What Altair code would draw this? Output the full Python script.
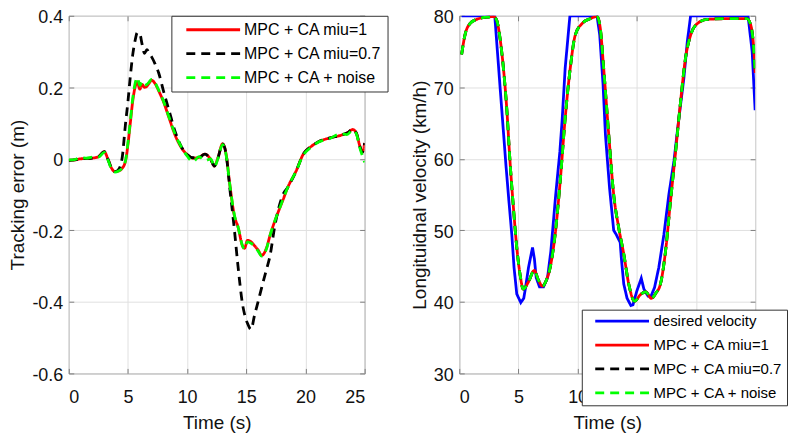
import altair as alt
import pandas as pd

# ---------------- Left panel: tracking error ----------------
t_err = [0, 0.5, 1, 1.5, 2, 2.5, 3, 3.3, 3.6, 3.9, 4.2, 4.5, 4.8, 5.0, 5.2, 5.4, 5.6, 5.8,
         6.0, 6.2, 6.4, 6.6, 6.8, 7.0, 7.3, 7.6, 8.0, 8.5, 9.0, 9.5, 10, 10.5, 11, 11.5, 12,
         12.3, 12.6, 13.0, 13.3, 13.6, 14.0, 14.3, 14.7, 14.85, 15.1, 15.4, 15.7, 16.0, 16.3,
         16.7, 17.0, 17.4, 17.8, 18.1, 18.5, 19.2, 19.8, 20.5, 21, 22, 23, 23.5, 24, 24.3,
         24.6, 24.8, 25]
err_miu1 = [-0.004, -0.003, 0.0, 0.001, 0.002, 0.006, 0.02, 0.0, -0.025, -0.036, -0.034, -0.027,
            -0.005, 0.04, 0.1, 0.16, 0.2, 0.215, 0.195, 0.208, 0.2, 0.203, 0.212, 0.22, 0.21,
            0.19, 0.16, 0.112, 0.065, 0.032, 0.012, 0.002, 0.004, 0.013, -0.002, -0.02, 0.002,
            0.042, 0.012, -0.07, -0.16, -0.19, -0.245, -0.25, -0.228, -0.232, -0.243, -0.255,
            -0.27, -0.25, -0.215, -0.175, -0.14, -0.115, -0.08, -0.035, 0.012, 0.035, 0.046,
            0.058, 0.066, 0.072, 0.082, 0.072, 0.035, 0.018, 0.044]
err_miu07 = [-0.004, -0.003, 0.0, 0.001, 0.002, 0.006, 0.02, 0.0, -0.025, -0.036, -0.03, 0.0,
             0.1, 0.16, 0.23, 0.29, 0.33, 0.353, 0.35, 0.32, 0.295, 0.305, 0.295, 0.285, 0.265,
             0.24, 0.19, 0.132, 0.075, 0.035, 0.012, 0.003, 0.004, 0.013, -0.002, -0.02, 0.002,
             0.042, 0.012, -0.08, -0.2, -0.3, -0.41, -0.434, -0.46, -0.477, -0.437, -0.399,
             -0.36, -0.31, -0.272, -0.19, -0.13, -0.1, -0.08, -0.035, 0.012, 0.035, 0.046,
             0.058, 0.066, 0.072, 0.082, 0.072, 0.035, 0.018, 0.044]
err_noise = [-0.003, -0.002, 0.004, 0.002, 0.005, 0.005, 0.018, -0.002, -0.028, -0.037, -0.034,
             -0.026, -0.004, 0.045, 0.105, 0.168, 0.21, 0.227, 0.205, 0.215, 0.205, 0.208, 0.215,
             0.222, 0.212, 0.192, 0.162, 0.114, 0.068, 0.034, 0.008, -0.008, 0.006, -0.005, 0.0,
             -0.022, 0.0, 0.04, 0.01, -0.07, -0.158, -0.19, -0.245, -0.252, -0.232, -0.236,
             -0.245, -0.258, -0.272, -0.252, -0.215, -0.175, -0.14, -0.113, -0.08, -0.035, 0.01,
             0.033, 0.045, 0.056, 0.07, 0.068, 0.08, 0.07, 0.03, 0.01, -0.01]

# ---------------- Right panel: longitudinal velocity ----------------
t_des = [0.2, 3.0, 3.45, 3.95, 4.2, 4.44, 4.63, 4.86, 5.2, 5.45, 5.6, 5.85, 6.19, 6.35, 6.5,
         6.78, 7.12, 7.46, 7.74, 8.15, 8.5, 8.7, 8.95, 9.35, 11.64, 11.87, 12.15, 12.35, 12.7,
         13.05, 13.27, 13.6, 13.7, 13.9, 14.18, 14.5, 14.68, 15.0, 15.38, 15.6, 15.95, 16.2,
         16.5, 16.86, 17.29, 17.71, 18.14, 18.56, 18.98, 19.27, 19.55, 24.4, 24.75, 25.0]
v_des = [80, 80, 70, 59, 54, 49.4, 44.8, 41.1, 39.9, 40.5, 42.0, 44.8, 47.6, 46.0, 43.4, 42.1,
         42.1, 43.4, 47.1, 55, 61, 65.6, 72.7, 80, 80, 77.3, 70.4, 63.4, 55.9, 50.0, 49.4, 48.3,
         46.0, 42.5, 40.5, 39.5, 39.6, 41.5, 43.3, 41.8, 40.8, 40.8, 42.0, 44.8, 49.4, 55.0,
         59.7, 65.7, 71.3, 76.4, 80, 80, 75.0, 66.8]
t_mpc = [0.2, 0.48, 0.9, 1.47, 2.3, 2.9, 3.16, 3.45, 3.73, 4.01, 4.29, 4.58, 4.86, 5.14, 5.4,
         5.85, 6.33, 6.7, 7.03, 7.35, 7.68, 8.1, 8.53, 8.95, 9.38, 9.8, 10.37, 11.07, 11.64,
         11.92, 12.2, 12.63, 13.05, 13.47, 13.9, 14.32, 14.82, 15.3, 15.75, 16.23, 16.6, 17.0,
         17.43, 17.85, 18.28, 18.7, 19.12, 19.55, 20.11, 20.96, 22.9, 24.3, 24.63, 24.9, 25.0]
v_miu1 = [74.6, 77.3, 78.9, 79.5, 79.8, 79.9, 79.4, 76.8, 72.7, 67.1, 59.6, 53.1, 47.6, 43.8,
          41.8, 42.8, 44.4, 43.0, 42.2, 43.0, 44.8, 49.4, 56.9, 65.7, 72.7, 77.3, 78.9, 79.6,
          79.9, 78.2, 72.7, 63.4, 55.0, 50.4, 46.7, 42.5, 40.1, 41.0, 41.4, 40.5, 41.2, 42.5,
          47.1, 54.1, 61.0, 68.0, 74.1, 77.3, 78.9, 79.5, 79.6, 79.6, 78.7, 75.0, 72.0]
v_miu07 = list(v_miu1)
v_noise = list(v_miu1)

names = ["desired velocity", "MPC + CA miu=1", "MPC + CA miu=0.7", "MPC + CA + noise"]
colors = ["#0000ff", "#ff0000", "#000000", "#00ff00"]
dashes = [[1, 0], [1, 0], [9, 6], [9, 6]]

left_df = pd.concat([
    pd.DataFrame({"series": names[1], "t": t_err, "v": err_miu1}),
    pd.DataFrame({"series": names[2], "t": t_err, "v": err_miu07}),
    pd.DataFrame({"series": names[3], "t": t_err, "v": err_noise}),
], ignore_index=True)

des_df = pd.DataFrame({"series": names[0], "t": t_des, "v": v_des})
mpc_df = pd.concat([
    pd.DataFrame({"series": names[1], "t": t_mpc, "v": v_miu1}),
    pd.DataFrame({"series": names[2], "t": t_mpc, "v": v_miu07}),
    pd.DataFrame({"series": names[3], "t": t_mpc, "v": v_noise}),
], ignore_index=True)

FONT = "Liberation Sans"
xticks = [0, 5, 10, 15, 20, 25]


def make_legend(lx, ly, font, pad, sym_off, lab_off):
    return alt.Legend(title=None, orient="none", legendX=lx, legendY=ly,
                      symbolType="M-4.5,0H4.5", symbolSize=144, symbolStrokeWidth=2.8,
                      symbolOffset=sym_off, labelOffset=lab_off,
                      labelFontSize=font, labelFont=FONT, labelColor="#000000",
                      strokeColor="#333333", fillColor="white", padding=pad, rowPadding=8,
                      labelLimit=400, zindex=1)


def panel(dfs, interps, dom, rng, dsh, ydom, yticks, ytitle, legend, label_expr=None):
    xs = alt.Scale(domain=[0, 25], nice=False, zero=False)
    ys = alt.Scale(domain=ydom, nice=False, zero=False)
    yaxis_kw = dict(values=yticks, title=ytitle, orient="left", offset=-5, tickSize=5,
                    labelPadding=6, titlePadding=4, labelOffset=2, domain=False, grid=True)
    if label_expr:
        yaxis_kw["labelExpr"] = label_expr
    xaxis = alt.Axis(values=xticks, title="Time (s)", orient="bottom", offset=-5,
                     tickSize=5, labelPadding=15, titlePadding=7, domain=False, grid=True)
    yaxis = alt.Axis(**yaxis_kw)
    layers = []
    for df, interp in zip(dfs, interps):
        layers.append(alt.Chart(df).mark_line(strokeWidth=2.8, clip=True,
                                              interpolate=interp).encode(
            x=alt.X("t:Q", scale=xs, axis=xaxis),
            y=alt.Y("v:Q", scale=ys, axis=yaxis),
            color=alt.Color("series:N", scale=alt.Scale(domain=dom, range=rng), legend=legend),
            strokeDash=alt.StrokeDash("series:N", scale=alt.Scale(domain=dom, range=dsh),
                                      legend=legend),
        ))
    frame = alt.Chart(dfs[0]).mark_line(strokeOpacity=0).encode(
        x=alt.X("t:Q", scale=xs,
                axis=alt.Axis(values=xticks, orient="top", offset=-5, tickSize=5,
                              labels=False, title=None, domain=False, grid=False)),
        y=alt.Y("v:Q", scale=ys,
                axis=alt.Axis(values=yticks, orient="right", offset=-5, tickSize=5,
                              labels=False, title=None, domain=False, grid=False)),
    )
    main = alt.layer(*layers) if len(layers) > 1 else layers[0]
    return alt.layer(main, frame).resolve_axis(x="independent", y="independent").properties(
        width=297, height=359)


left = panel([left_df], ["monotone"], names[1:], colors[1:], dashes[1:], [-0.6, 0.4],
             [-0.6, -0.4, -0.2, 0, 0.2, 0.4], "Tracking error (m)",
             make_legend(103, 0, 16, 6, 28, 23),
             label_expr="'' + round(datum.value * 10) / 10")
right = panel([des_df, mpc_df], ["linear", "monotone"], names, colors, dashes, [30, 80],
              [30, 40, 50, 60, 70, 80], "Longituidnal velocity (km/h)",
              make_legend(123, 295, 15, 4, 29, 24))

chart = alt.hconcat(left, right, spacing=95, bounds="flush").resolve_scale(
    color="independent", strokeDash="independent"
).resolve_legend(color="independent", strokeDash="independent").properties(
    padding={"left": 0, "top": -1, "right": 0, "bottom": 0}
).configure_view(stroke="#808080", strokeWidth=1).configure_axis(
    labelFont=FONT, titleFont=FONT, labelFontSize=18, titleFontSize=19,
    titleFontWeight="normal", labelColor="#111111", titleColor="#111111",
    tickColor="#808080", gridColor="#e0e0e0", gridWidth=1
)

chart.save("out.html", embed_options={"renderer": "svg", "actions": False})
